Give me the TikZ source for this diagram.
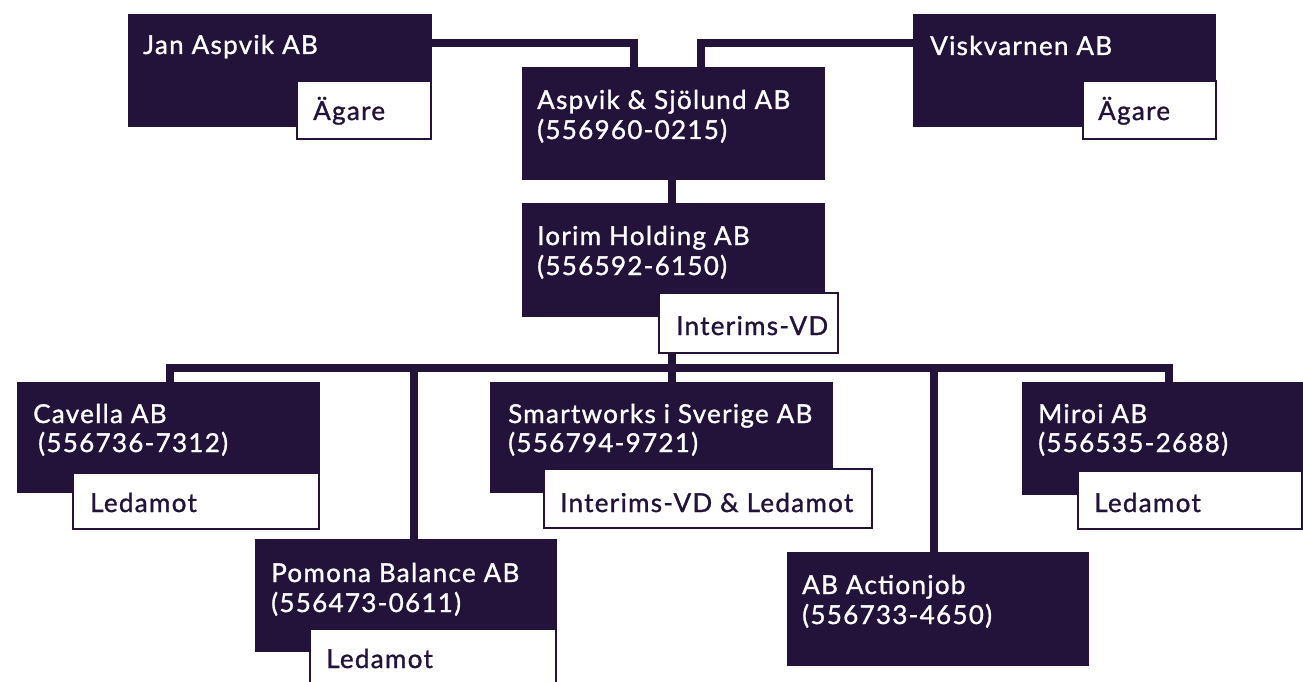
\documentclass[tikz,border=0pt]{standalone}
\usepackage{fontspec}
\setmainfont{Lato}
\newfontfamily\boxfont{Lato}[FakeBold=1.2, LetterSpace=5]
\definecolor{dark}{HTML}{23133B}
\tikzset{
  dbox/.style={fill=dark, draw=none, anchor=north west, inner sep=0pt},
  wbox/.style={fill=white, draw=dark, line width=2pt, anchor=north west, inner sep=0pt},
  dtxt/.style={anchor=base west, inner sep=0pt, text=white, font=\boxfont\fontsize{26}{30}\selectfont},
  wtxt/.style={anchor=base west, inner sep=0pt, text=dark, font=\boxfont\fontsize{26}{30}\selectfont},
  conn/.style={draw=dark, line width=8pt}
}
\begin{document}
\begin{tikzpicture}[x=1pt,y=-1pt]
\useasboundingbox (0,0) rectangle (1303,682);
% bend points of the bus
\coordinate (busL) at (170,368);
\coordinate (busR) at (1169,368);
% company boxes (outlines only here; filled after the connectors)
\path
 node[dbox, minimum width=304, minimum height=113, fill=none] (jan) at (128,14) {}
 node[dbox, minimum width=303, minimum height=113, fill=none] (visk) at (913,14) {}
 node[dbox, minimum width=303, minimum height=113, fill=none] (asp) at (522,67) {}
 node[dbox, minimum width=303, minimum height=114, fill=none] (ior) at (522,203) {}
 node[dbox, minimum width=179, minimum height=60, fill=none] (iv) at (658,292) {}
 node[dbox, minimum width=303, minimum height=111, fill=none] (cav) at (17,382) {}
 node[dbox, minimum width=343, minimum height=111, fill=none] (smart) at (490,382) {}
 node[dbox, minimum width=281, minimum height=113, fill=none] (miroi) at (1022,382) {}
 node[dbox, minimum width=302, minimum height=113, fill=none] (pom) at (255,539) {}
 node[dbox, minimum width=302, minimum height=114, fill=none] (act) at (787,552) {};
% ---------- connectors
\draw[conn] (jan.east |- 0,43) -| ([xshift=112]asp.north west);
\draw[conn] (visk.west |- 0,43) -| ([xshift=179]asp.north west);
\draw[conn] (asp.south -| 672,0) -- (ior.north -| 672,0);
\draw[conn] (iv.south -| 672,0) -- (busL -| 672,0);
\draw[conn] (cav.north -| busL) -- (busL) -- (busR) -- (miroi.north -| busR);
\draw[conn] (busL -| 414,0) -- (pom.north -| 414,0);
\draw[conn] (busL -| 672,0) -- (smart.north -| 672,0);
\draw[conn] (busL -| 934,0) -- (act.north -| 934,0);
% ---------- filled boxes
\fill[dark] (jan.north west) rectangle (jan.south east);
\fill[dark] (visk.north west) rectangle (visk.south east);
\fill[dark] (asp.north west) rectangle (asp.south east);
\fill[dark] (ior.north west) rectangle (ior.south east);
\fill[dark] (cav.north west) rectangle (cav.south east);
\fill[dark] (smart.north west) rectangle (smart.south east);
\fill[dark] (miroi.north west) rectangle (miroi.south east);
\fill[dark] (pom.north west) rectangle (pom.south east);
\fill[dark] (act.north west) rectangle (act.south east);
% white role boxes
\node[wbox, minimum width=134, minimum height=58] (janr) at (296,80) {};
\node[wbox, minimum width=133, minimum height=58] (viskr) at (1082,80) {};
\node[wbox, minimum width=179, minimum height=60] (ivr) at (658,292) {};
\node[wbox, minimum width=246, minimum height=56] (cavr) at (72,472) {};
\node[wbox, minimum width=328, minimum height=59] (smartr) at (543,468) {};
\node[wbox, minimum width=224, minimum height=58] (miroir) at (1077,470) {};
\node[wbox, minimum width=246, minimum height=62] (pomr) at (309,628) {};
% ---------- texts
\node[dtxt] (jant) at (143,54) {Jan Aspvik AB};
\node[wtxt] (janrt) at (313,120) {Ägare};
\node[dtxt] (viskt) at (930,55) {Viskvarnen AB};
\node[wtxt] (viskrt) at (1098,120) {Ägare};
\node[dtxt] (aspt1) at (537,109) {Aspvik \& Sjölund AB};
\node[dtxt] (aspt2) at (537,139) {(556960-0215)};
\node[dtxt] (iort1) at (537,245) {Iorim Holding AB};
\node[dtxt] (iort2) at (537,275) {(556592-6150)};
\node[wtxt] (ivt) at (676,335) {Interims-VD};
\node[dtxt] (cavt1) at (33,423) {Cavella AB};
\node[dtxt] (cavt2) at (38,452) {(556736-7312)};
\node[wtxt] (cavrt) at (90,512) {Ledamot};
\node[dtxt] (smartt1) at (508,423) {Smartworks i Sverige AB};
\node[dtxt] (smartt2) at (508,452) {(556794-9721)};
\node[wtxt] (smartrt) at (560,512) {Interims-VD \& Ledamot};
\node[dtxt] (miroit1) at (1038,423) {Miroi AB};
\node[dtxt] (miroit2) at (1038,452) {(556535-2688)};
\node[wtxt] (miroirt) at (1094,512) {Ledamot};
\node[dtxt] (pomt1) at (271,582) {Pomona Balance AB};
\node[dtxt] (pomt2) at (271,612) {(556473-0611)};
\node[wtxt] (pomrt) at (326,668) {Ledamot};
\node[dtxt] (actt1) at (802,594) {AB Actionjob};
\node[dtxt] (actt2) at (802,624) {(556733-4650)};
\end{tikzpicture}
\end{document}
